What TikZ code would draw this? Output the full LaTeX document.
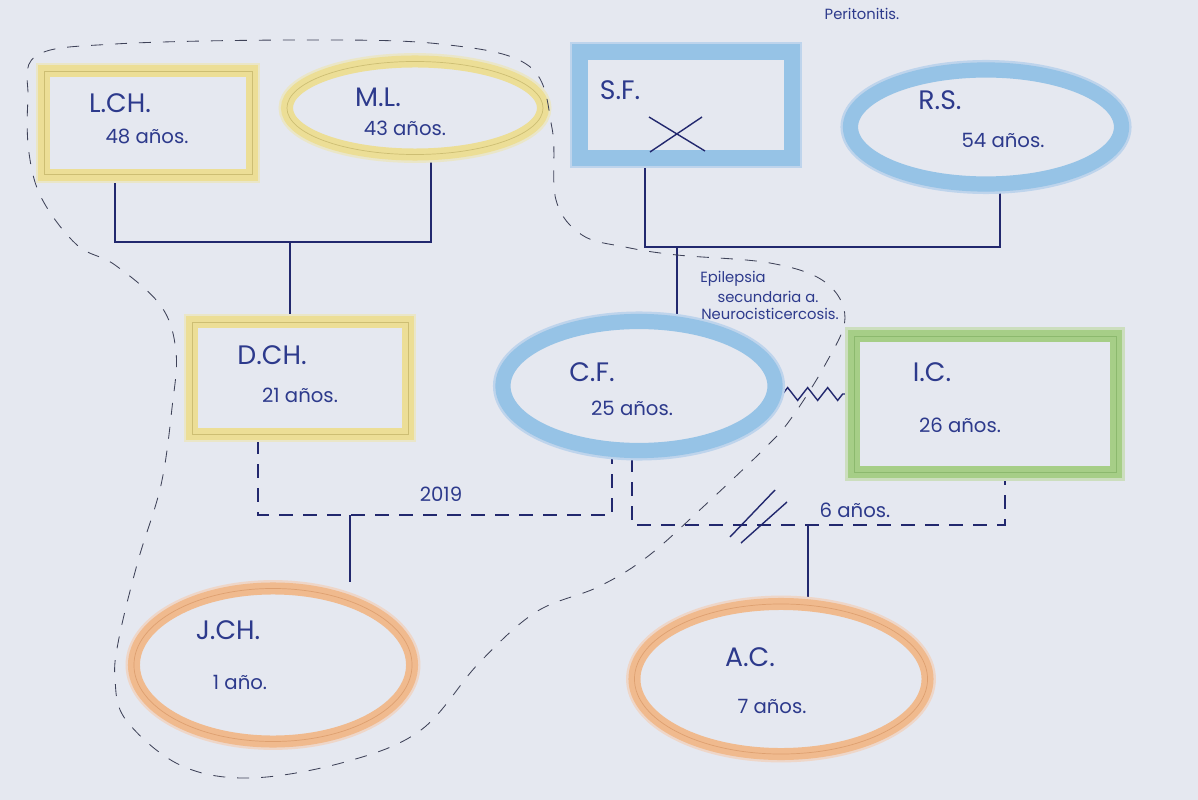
\documentclass[tikz,border=0pt]{standalone}
\usepackage{fontspec}
\setmainfont{Poppins}
\usetikzlibrary{shapes.geometric,backgrounds,decorations.pathmorphing}
\definecolor{bgc}{RGB}{229,232,240}
\definecolor{ink}{RGB}{34,40,110}
\definecolor{txt}{RGB}{45,58,140}
\definecolor{dashc}{RGB}{62,66,88}
\definecolor{yband}{RGB}{236,222,150}
\definecolor{yhalo}{RGB}{234,230,200}
\definecolor{yline}{RGB}{205,190,115}
\definecolor{bband}{RGB}{150,195,230}
\definecolor{bhalo}{RGB}{190,212,236}
\definecolor{gband}{RGB}{166,206,135}
\definecolor{ghalo}{RGB}{204,222,190}
\definecolor{gline}{RGB}{140,185,110}
\definecolor{oband}{RGB}{240,186,142}
\definecolor{ohalo}{RGB}{238,214,200}
\definecolor{oline}{RGB}{222,160,112}
\begin{document}
\begin{tikzpicture}[x=0.025cm,y=-0.025cm,
  shp/.style={inner sep=0pt, fill=bgc},
  yshape/.style={shp, draw=yband, line width=0.3cm,
    preaction={draw=yhalo, line width=0.42cm},
    postaction={draw=yline, line width=0.5pt}},
  bshape/.style={shp, draw=bband, line width=0.38cm,
    preaction={draw=bhalo, line width=0.5cm}},
  gshape/.style={shp, draw=gband, line width=0.32cm,
    preaction={draw=ghalo, line width=0.44cm},
    postaction={draw=gline, line width=0.4pt}},
  oshape/.style={shp, draw=oband, line width=0.3cm,
    preaction={draw=ohalo, line width=0.42cm},
    postaction={draw=oline, line width=0.5pt}},
  kin/.style={draw=ink, line width=1pt},
  union/.style={kin, dash pattern=on 0.35cm off 0.25cm},
  house/.style={draw=dashc, line width=0.6pt, dash pattern=on 0.3cm off 0.3cm},
  nm/.style={text=txt, font=\fontsize{19}{22}\selectfont, inner sep=0pt},
  ag/.style={text=txt, font=\fontsize{14}{16}\selectfont, inner sep=0pt},
  sm/.style={text=txt, font=\fontsize{10.5}{12}\selectfont, inner sep=0pt},
]
\useasboundingbox (0,0) rectangle (1198,800);

% shapes
\node[yshape, rectangle, minimum width=5.2cm, minimum height=2.575cm] (LCH) at (148,123) {};
\node[yshape, ellipse, minimum width=6.4cm, minimum height=2.325cm] (ML) at (415,108) {};
\node[bshape, rectangle, minimum width=5.3cm, minimum height=2.65cm] (SF) at (686,105) {};
\node[bshape, ellipse, minimum width=6.775cm, minimum height=2.85cm] (RS) at (986,127) {};
\node[yshape, rectangle, minimum width=5.4cm, minimum height=2.8cm] (DCH) at (300,378) {};
\node[bshape, ellipse, minimum width=6.8cm, minimum height=3.225cm] (CF) at (639,386) {};
\node[gshape, rectangle, minimum width=6.55cm, minimum height=3.4cm] (IC) at (985,404) {};
\node[oshape, ellipse, minimum width=6.95cm, minimum height=3.825cm] (JCH) at (273,665) {};
\node[oshape, ellipse, minimum width=7.325cm, minimum height=3.75cm] (AC) at (781,679) {};

% junction coordinates
\coordinate (j1) at (290,242);
\coordinate (j2) at (677,247);
\coordinate (j3) at (350,515);
\coordinate (j4) at (808,525);

\begin{scope}[on background layer]
  \fill[bgc] (0,0) rectangle (1198,800);
  % parents of D.CH.
  \draw[kin] (LCH.south -| 115,0) |- (j1) -| (ML.south -| 431,0);
  \draw[kin] (j1) -- (DCH.north -| j1);
  % parents of C.F.
  \draw[kin] (SF.south -| 645,0) |- (j2) -| (RS.south -| 1000,0);
  \draw[kin] (j2) -- (CF.north -| j2);
  % union D.CH. -- C.F.
  \draw[union] (DCH.south -| 258,0) |- (j3) -| (CF.south -| 612,0);
  \draw[kin] (j3) -- (JCH.north -| j3);
  % union C.F. -- I.C.
  \draw[union] (CF.south -| 632,0) |- (j4) -| (IC.south -| 1005,0);
  \draw[kin] (j4) -- (AC.north -| j4);
  % conflict zigzag
  \draw[kin, decorate, decoration={zigzag, amplitude=0.16cm, segment length=0.5cm}]
    (CF.east |- 0,394) -- (IC.west |- 0,394);
\end{scope}

% separation double slash
\draw[kin] (730,537) -- (775,490);
\draw[kin] (741,543) -- (787,502);
% deceased cross
\draw[kin] (649,117) -- (705,151);
\draw[kin] (650,152) -- (702,117);

% household outline
\draw[house] plot[smooth cycle, tension=0.6] coordinates {
  (36,56) (115,44) (300,40) (440,44) (529,66) (552,128) (556,200) (582,235)
  (625,247) (677,255) (770,263) (825,282) (845,318) (825,365) (790,420)
  (763,450) (703,507) (647,557) (598,587) (536,612) (479,663) (421,730)
  (345,762) (250,778) (180,765) (126,720) (115,679) (119,638) (138,561)
  (161,485) (172,408) (176,352) (161,306) (115,265) (77,245) (42,199)
  (29,153) (28,100)};

% texts
\node[nm] (tLCH) at (120,103) {L.CH.};
\node[ag] (aLCH) at (147,136) {48 años.};
\node[nm] (tML) at (378,97) {M.L.};
\node[ag] (aML) at (405,128) {43 años.};
\node[nm] (tSF) at (620,90) {S.F.};
\node[sm] (tPer) at (862,14) {Peritonitis.};
\node[nm] (tRS) at (940,100) {R.S.};
\node[ag] (aRS) at (1003,140) {54 años.};
\node[sm] (e1) at (733,279) {Epilepsia};
\node[sm] (e2) at (768,297) {secundaria a.};
\node[sm] (e3) at (770,314) {Neurocisticercosis.};
\node[nm] (tDCH) at (272,355) {D.CH.};
\node[ag] (aDCH) at (300,395) {21 años.};
\node[nm] (tCF) at (592,372) {C.F.};
\node[ag] (aCF) at (632,408) {25 años.};
\node[nm] (tIC) at (932,372) {I.C.};
\node[ag] (aIC) at (960,425) {26 años.};
\node[ag] (y2019) at (441,494) {2019};
\node[ag] (t6) at (855,510) {6 años.};
\node[nm] (tJCH) at (228,630) {J.CH.};
\node[ag] (aJCH) at (240,682) {1 año.};
\node[nm] (tAC) at (750,657) {A.C.};
\node[ag] (aAC) at (772,706) {7 años.};
\end{tikzpicture}
\end{document}
